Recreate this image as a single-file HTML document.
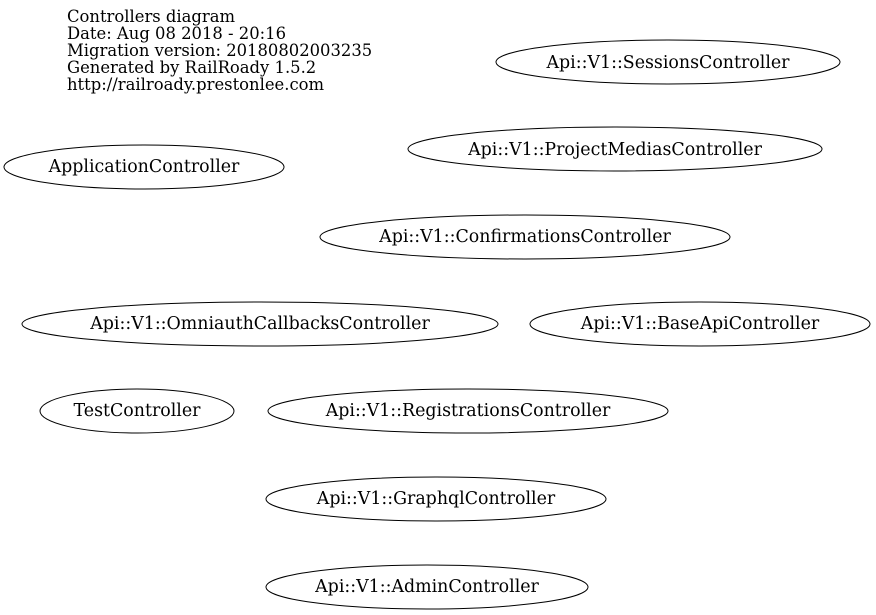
<!DOCTYPE html>
<html><head><meta charset="utf-8"><style>
html,body{margin:0;padding:0;background:#fff;}
svg{display:block;}
text{font-family:"DejaVu Serif","Liberation Serif",serif;fill:#000;}
</style></head><body>
<svg width="876" height="615" viewBox="0 0 876 615" xmlns="http://www.w3.org/2000/svg">
<g font-size="16.4">
<text x="67" y="22">Controllers diagram</text>
<text x="67" y="39">Date: Aug 08 2018 - 20:16</text>
<text x="67" y="56">Migration version: 20180802003235</text>
<text x="67" y="73">Generated by RailRoady 1.5.2</text>
<text x="67" y="90">http://railroady.prestonlee.com</text>
</g>
<g fill="none" stroke="#000" stroke-width="1">
<ellipse cx="668" cy="62" rx="172" ry="22"/>
<ellipse cx="615" cy="149" rx="207" ry="22"/>
<ellipse cx="144" cy="167" rx="140" ry="22"/>
<ellipse cx="525" cy="237" rx="205" ry="22"/>
<ellipse cx="260" cy="324" rx="238" ry="22"/>
<ellipse cx="700" cy="324" rx="170" ry="22"/>
<ellipse cx="137" cy="411" rx="97" ry="22"/>
<ellipse cx="468" cy="411" rx="200" ry="22"/>
<ellipse cx="436" cy="499" rx="170" ry="22"/>
<ellipse cx="427" cy="587" rx="161" ry="22"/>
</g>
<g font-size="17.4" text-anchor="middle">
<text x="668" y="68">Api::V1::SessionsController</text>
<text x="615" y="155">Api::V1::ProjectMediasController</text>
<text x="144" y="172">ApplicationController</text>
<text x="525" y="242">Api::V1::ConfirmationsController</text>
<text x="260" y="329">Api::V1::OmniauthCallbacksController</text>
<text x="700" y="329">Api::V1::BaseApiController</text>
<text x="137" y="416">TestController</text>
<text x="468" y="416">Api::V1::RegistrationsController</text>
<text x="436" y="504">Api::V1::GraphqlController</text>
<text x="427" y="592">Api::V1::AdminController</text>
</g>
</svg>
</body></html>
